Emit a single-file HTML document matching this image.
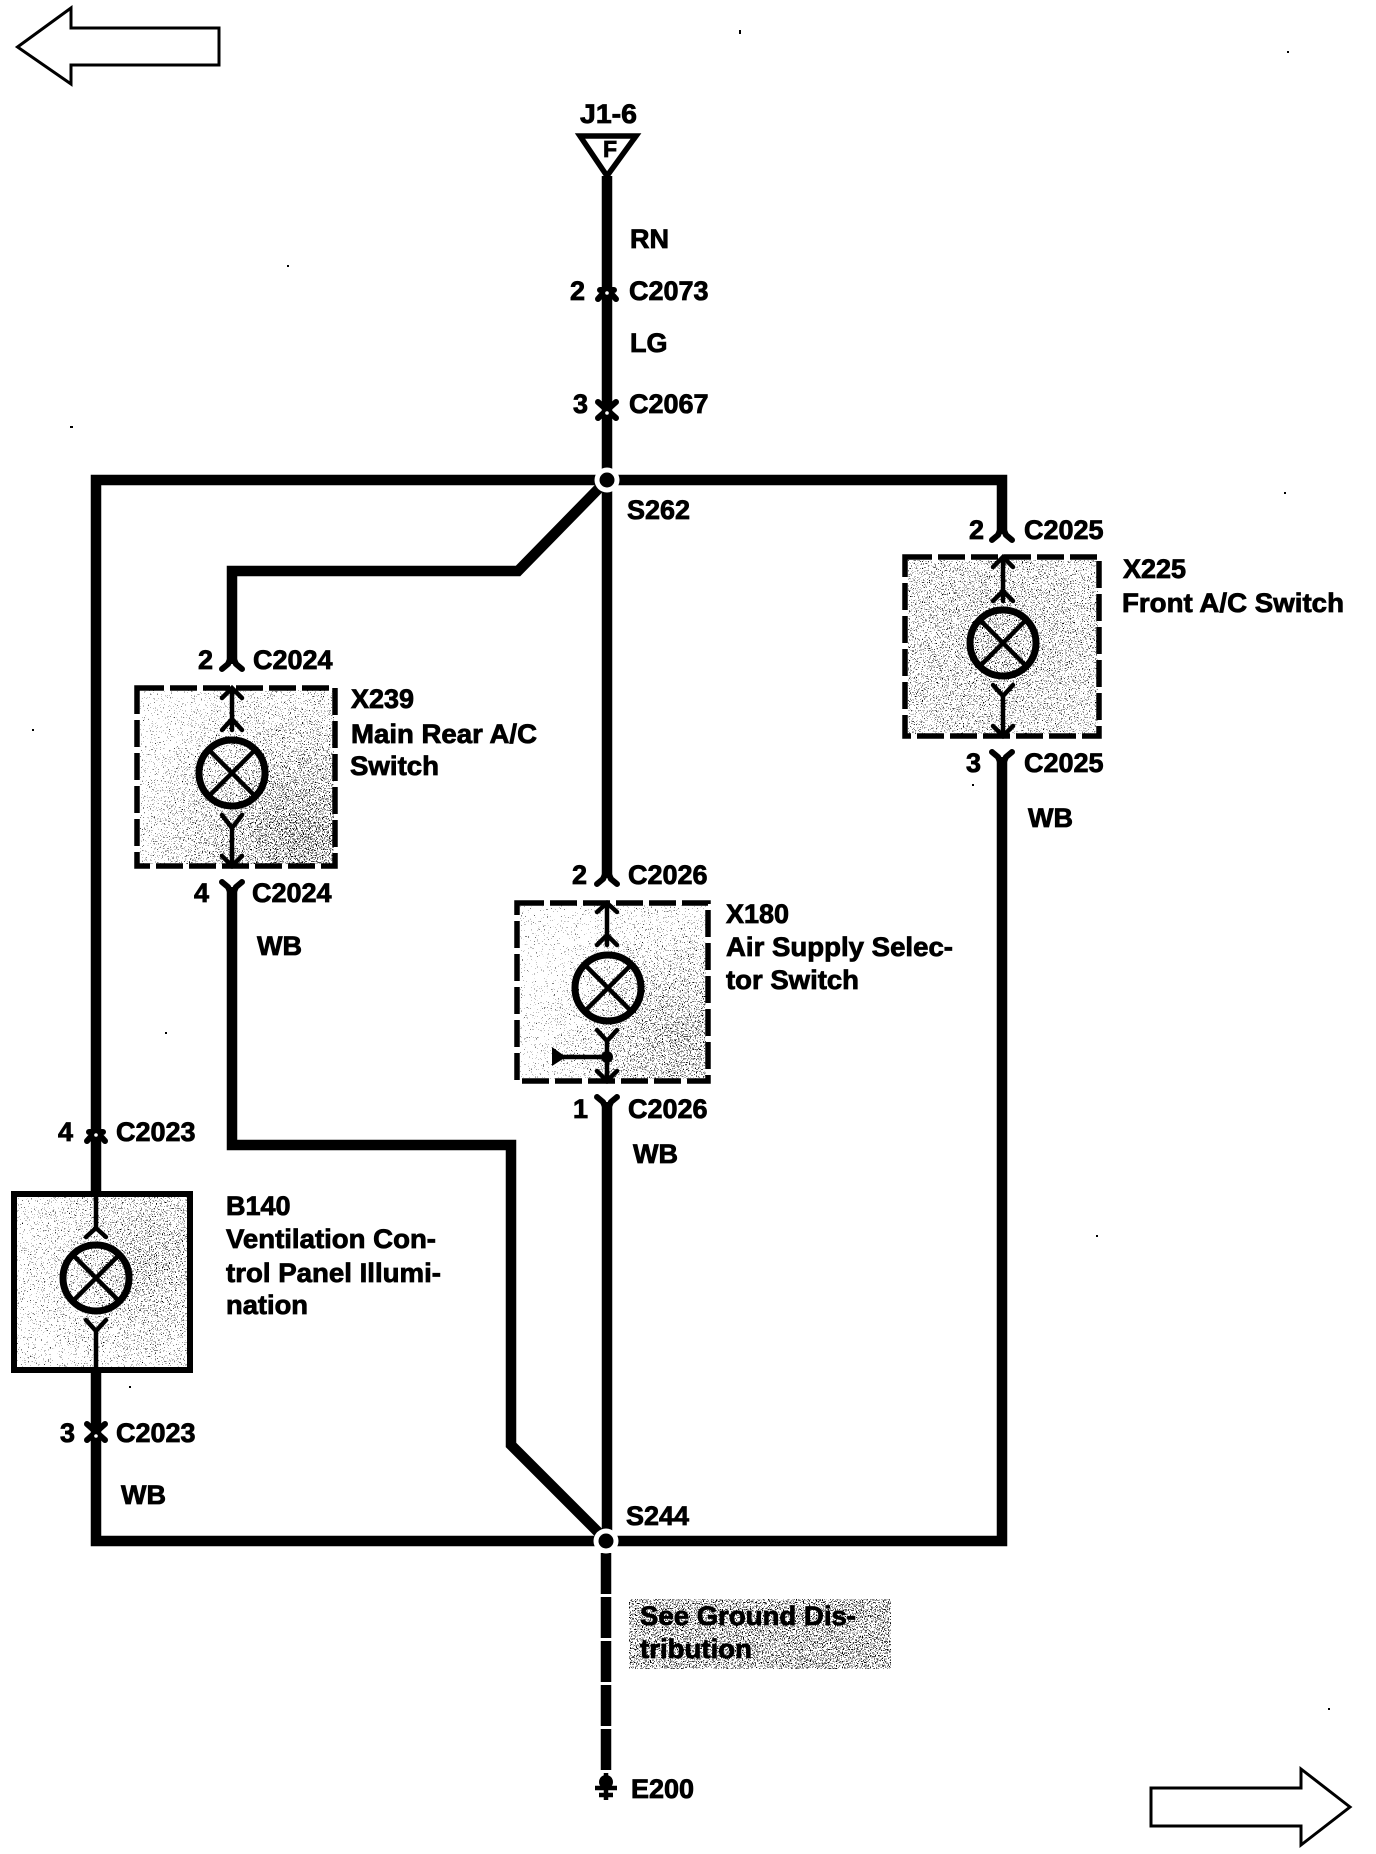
<!DOCTYPE html>
<html><head><meta charset="utf-8"><style>
html,body{margin:0;padding:0;background:#fff}
svg{display:block}
text{font-family:"Liberation Sans",sans-serif;font-weight:700;font-size:27px;fill:#000;stroke:#000;stroke-width:.8px}
.w{fill:none;stroke:#000;stroke-width:10.5;stroke-linejoin:miter}
.t{fill:none;stroke:#000;stroke-width:4.5;stroke-linecap:round;stroke-linejoin:miter}
.f{fill:none;stroke:#000;stroke-width:6;stroke-linecap:round;stroke-linejoin:round}
.d{fill:none;stroke:#000;stroke-width:5.5;stroke-dasharray:27 6}
.a{fill:#fff;stroke:#000;stroke-width:3;stroke-linejoin:miter}
</style></head><body>
<svg width="1376" height="1854" viewBox="0 0 1376 1854" xmlns="http://www.w3.org/2000/svg">
<defs>
<filter id="sp" x="0" y="0" width="100%" height="100%" color-interpolation-filters="sRGB">
<feTurbulence type="fractalNoise" baseFrequency="0.85" numOctaves="1" seed="7" result="n"/>
<feColorMatrix in="n" values="1 0 0 0 0 0 1 0 0 0 0 0 1 0 0 0 0 0 0 1" result="n2"/>
<feComposite in="n2" in2="SourceGraphic" operator="arithmetic" k1="0" k2="1" k3="1" k4="0" result="s"/>
<feColorMatrix in="s" values="0 0 0 0 0 0 0 0 0 0 0 0 0 0 0 60 0 0 0 -42"/>
</filter>
<radialGradient id="g1" gradientUnits="userSpaceOnUse" cx="300" cy="840" r="190"><stop offset="0" stop-color="#272727"/><stop offset="1" stop-color="#020202"/></radialGradient>
<radialGradient id="g2" gradientUnits="userSpaceOnUse" cx="680" cy="1040" r="150"><stop offset="0" stop-color="#202020"/><stop offset="1" stop-color="#020202"/></radialGradient>
<radialGradient id="g3" gradientUnits="userSpaceOnUse" cx="1000" cy="640" r="130"><stop offset="0" stop-color="#1a1a1a"/><stop offset="1" stop-color="#101010"/></radialGradient>
<radialGradient id="g4" gradientUnits="userSpaceOnUse" cx="150" cy="1260" r="130"><stop offset="0" stop-color="#1c1c1c"/><stop offset="1" stop-color="#060606"/></radialGradient>
</defs>

<!-- stipple -->
<rect x="140" y="690" width="194" height="174" fill="url(#g1)" filter="url(#sp)"/>
<rect x="520" y="905" width="186" height="174" fill="url(#g2)" filter="url(#sp)"/>
<rect x="908" y="560" width="190" height="174" fill="url(#g3)" filter="url(#sp)"/>
<rect x="17" y="1197" width="170" height="170" fill="url(#g4)" filter="url(#sp)"/>
<rect x="629" y="1599" width="262" height="70" fill="#222222" filter="url(#sp)"/>

<!-- page arrows -->
<polygon class="a" points="17.5,47 71,8 71,28 219,28 219,65 71,65 71,84"/>
<polygon class="a" points="1350,1807 1301,1769 1301,1788 1151,1788 1151,1826 1301,1826 1301,1845"/>

<!-- top triangle -->
<polygon points="580,136 636,136 607,176" fill="none" stroke="#000" stroke-width="5.5"/>

<!-- wires -->
<path class="w" d="M607,176V878"/>
<path class="w" d="M596,480H96V1195"/>
<path class="w" d="M607,480H1002V534"/>
<path class="w" d="M607,480L518,571H232V664"/>
<path class="w" d="M232,887V1145H511V1445L607,1541"/>
<path class="w" d="M607,1102V1541"/>
<path class="w" d="M1002,757V1541H607"/>
<path class="w" d="M96,1369V1541H607"/>
<path d="M606,1553V1771" fill="none" stroke="#000" stroke-width="10.5" stroke-dasharray="41 3"/>

<!-- splices -->
<circle cx="607" cy="480" r="12.5" fill="#fff"/><circle cx="607" cy="480" r="7.5" fill="#000"/>
<circle cx="606" cy="1541" r="12.5" fill="#fff"/><circle cx="606" cy="1541" r="7.5" fill="#000"/>

<!-- inline connectors -->
<g class="f">
<path d="M598,299L607,289L616,299M600,290H614"/><path d="M598,402L607,410L616,402M598,418L607,410L616,418"/>
<path d="M87,1141L96,1131L105,1141M89,1132H103"/><path d="M87,1424L96,1432L105,1424M87,1440L96,1432L105,1440"/>
</g>
<circle cx="607" cy="293" r="1.8" fill="#fff"/><circle cx="607" cy="413" r="1.8" fill="#fff"/>
<circle cx="96" cy="1135" r="1.8" fill="#fff"/><circle cx="96" cy="1436" r="1.8" fill="#fff"/>

<!-- wire end forks -->
<g class="f">
<path d="M222,669L228,664L232,655L236,664L242,669"/><path d="M222,882L228,887L232,896L236,887L242,882"/>
<path d="M597,884L603,879L607,870L611,879L617,884"/><path d="M597,1097L603,1102L607,1111L611,1102L617,1097"/>
<path d="M992,540L998,535L1002,526L1006,535L1012,540"/><path d="M992,752L998,757L1002,766L1006,757L1012,752"/>
</g>

<!-- X239 -->
<rect class="d" x="137" y="688" width="198" height="178"/>
<path class="t" d="M232,688V730M222,698L232,688L242,698M222,730L232,719L242,730"/>
<circle cx="232" cy="773" r="33" fill="none" stroke="#000" stroke-width="7"/>
<path d="M209,750L255,796M255,750L209,796" stroke="#000" stroke-width="4.5"/>
<path class="t" d="M232,828V866M222,815L232,828L242,815M222,856L232,866L242,856"/>

<!-- X180 -->
<rect class="d" x="517" y="903" width="191" height="178"/>
<path class="t" d="M607,903V945M597,912L607,903L617,912M597,945L607,935L617,945"/>
<circle cx="608" cy="988" r="33" fill="none" stroke="#000" stroke-width="7"/>
<path d="M585,965L631,1011M631,965L585,1011" stroke="#000" stroke-width="4.5"/>
<path class="t" d="M607,1042V1081M597,1030L607,1041L617,1030M597,1071L607,1081L617,1071M607,1057H560"/>
<circle cx="607" cy="1057" r="6" fill="#000"/>
<polygon points="552,1047 566,1057 552,1066" fill="#000"/>

<!-- X225 -->
<rect class="d" x="905" y="557" width="194" height="179"/>
<path class="t" d="M1003,557V601M993,567L1003,557L1013,567M993,601L1003,591L1013,601"/>
<circle cx="1003" cy="643" r="33" fill="none" stroke="#000" stroke-width="7"/>
<path d="M980,620L1026,666M1026,620L980,666" stroke="#000" stroke-width="4.5"/>
<path class="t" d="M1003,697V736M993,685L1003,696L1013,685M993,726L1003,736L1013,726"/>

<!-- B140 -->
<rect x="14" y="1194" width="176" height="176" fill="none" stroke="#000" stroke-width="6"/>
<path class="t" d="M96,1194V1229M86,1237L96,1228L106,1237"/>
<circle cx="96" cy="1278" r="33" fill="none" stroke="#000" stroke-width="7"/>
<path d="M73,1255L119,1301M119,1255L73,1301" stroke="#000" stroke-width="4.5"/>
<path class="t" d="M96,1331V1370M86,1320L96,1331L106,1320"/>

<!-- ground -->
<circle cx="606" cy="1782" r="7" fill="#000"/>
<path d="M606,1773V1800M595,1788H617M599,1795H613" stroke="#000" stroke-width="4.5" fill="none"/>

<!-- labels -->
<text x="580" y="123" textLength="57" lengthAdjust="spacingAndGlyphs">J1-6</text>
<text x="603" y="157" style="font-size:23px">F</text>
<text x="630" y="248">RN</text>
<text x="570" y="300">2</text><text x="629" y="300">C2073</text>
<text x="630" y="352">LG</text>
<text x="573" y="413">3</text><text x="629" y="413">C2067</text>
<text x="627" y="519">S262</text>

<text x="969" y="539">2</text><text x="1024" y="539">C2025</text>
<text x="1123" y="578">X225</text>
<text x="1122" y="612" textLength="222" lengthAdjust="spacingAndGlyphs">Front A/C Switch</text>
<text x="966" y="772">3</text><text x="1024" y="772">C2025</text>
<text x="1028" y="827">WB</text>

<text x="198" y="669">2</text><text x="253" y="669">C2024</text>
<text x="351" y="708">X239</text>
<text x="351" y="743" textLength="186" lengthAdjust="spacingAndGlyphs">Main Rear A/C</text>
<text x="350" y="775" textLength="89" lengthAdjust="spacingAndGlyphs">Switch</text>
<text x="194" y="902">4</text><text x="252" y="902">C2024</text>
<text x="257" y="955">WB</text>

<text x="572" y="884">2</text><text x="628" y="884">C2026</text>
<text x="726" y="923">X180</text>
<text x="726" y="956" textLength="227" lengthAdjust="spacingAndGlyphs">Air Supply Selec-</text>
<text x="726" y="989" textLength="133" lengthAdjust="spacingAndGlyphs">tor Switch</text>
<text x="573" y="1118">1</text><text x="628" y="1118">C2026</text>
<text x="633" y="1163">WB</text>

<text x="58" y="1141">4</text><text x="116" y="1141">C2023</text>
<text x="226" y="1215">B140</text>
<text x="226" y="1248" textLength="210" lengthAdjust="spacingAndGlyphs">Ventilation Con-</text>
<text x="226" y="1282" textLength="215" lengthAdjust="spacingAndGlyphs">trol Panel Illumi-</text>
<text x="226" y="1314" textLength="82" lengthAdjust="spacingAndGlyphs">nation</text>
<text x="60" y="1442">3</text><text x="116" y="1442">C2023</text>
<text x="121" y="1504">WB</text>

<text x="626" y="1525">S244</text>
<text x="640" y="1625" textLength="216" lengthAdjust="spacingAndGlyphs">See Ground Dis-</text>
<text x="640" y="1658" textLength="112" lengthAdjust="spacingAndGlyphs">tribution</text>
<text x="631" y="1798">E200</text>

<!-- dust -->
<g fill="#000">
<rect x="739" y="30" width="2" height="4"/><rect x="1287" y="51" width="2" height="2"/><rect x="287" y="265" width="2" height="2"/>
<rect x="70" y="426" width="3" height="2"/><rect x="1284" y="492" width="2" height="2"/><rect x="32" y="729" width="2" height="2"/>
<rect x="165" y="1032" width="2" height="2"/><rect x="1096" y="1235" width="2" height="2"/><rect x="1328" y="1708" width="2" height="2"/>
<rect x="972" y="784" width="2" height="2"/><rect x="129" y="1386" width="2" height="2"/>
</g>
</svg>
</body></html>
